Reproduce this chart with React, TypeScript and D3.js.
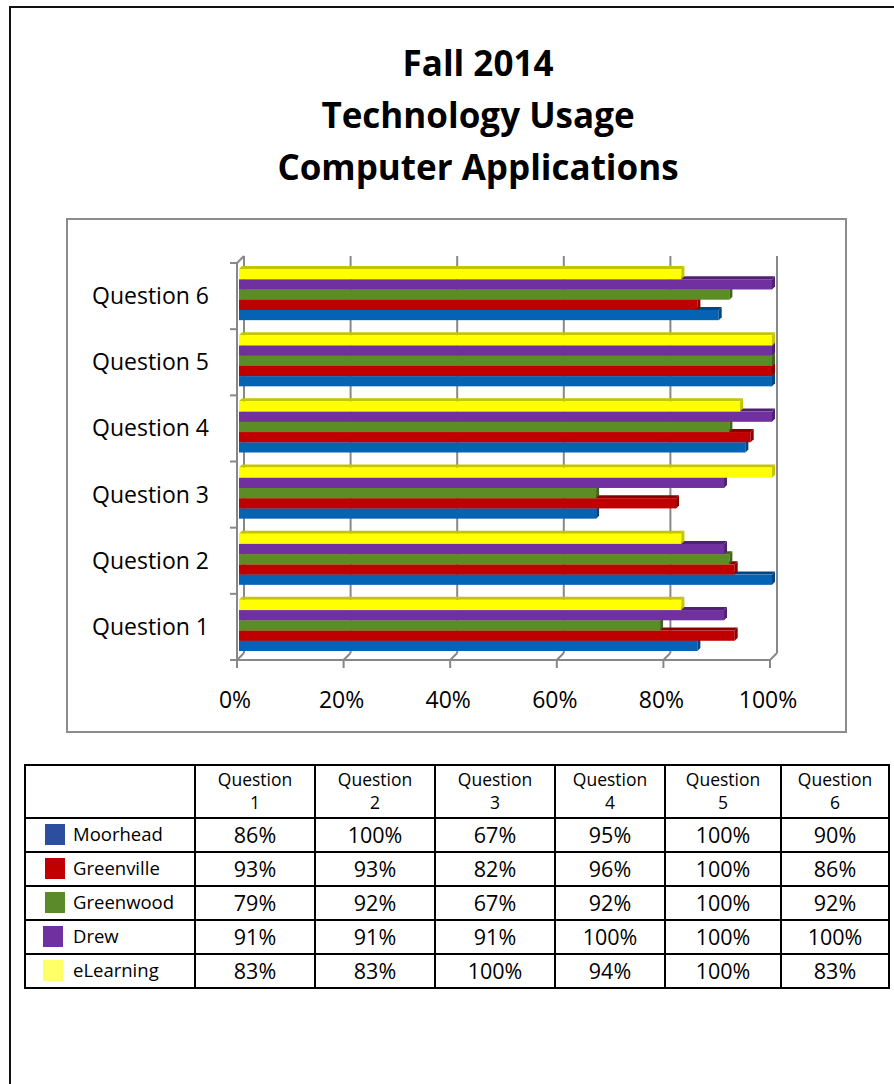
import * as d3 from 'd3';
import React from 'react';

// chart data
const questions = ['Question 1', 'Question 2', 'Question 3', 'Question 4', 'Question 5', 'Question 6'];
const seriesNames = ['Moorhead', 'Greenville', 'Greenwood', 'Drew', 'eLearning'];
const moorhead = [86, 100, 67, 95, 100, 90];
const greenville = [93, 93, 82, 96, 100, 86];
const greenwood = [79, 92, 67, 92, 100, 92];
const drew = [91, 91, 91, 100, 100, 100];
const elearning = [83, 83, 100, 94, 100, 83];
const tickValues = [0, 20, 40, 60, 80, 100];
const titleLines = ['Fall 2014', 'Technology Usage', 'Computer Applications'];

const seriesValues = [moorhead, greenville, greenwood, drew, elearning];

const barColors = ['#0563B3', '#C00000', '#5B8C26', '#7030A0', '#FFFF00'];
const barDark = ['#03467f', '#8a0000', '#40651a', '#4f2172', '#c4c400'];
const swatchColors = ['#2B4F9E', '#C00000', '#5B8A2B', '#7030A0', '#FFFF66'];

const font = '"Open Sans", Lato, sans-serif';

function Bar({ x0, x1, y, h, d, fill, dark }) {
  return (
    <g>
      <path d={`M${x0},${y} L${x0 + d},${y - d} L${x1 + d},${y - d} L${x1},${y} Z`} fill={dark} />
      <rect x={x0} y={y} width={x1 - x0} height={h} fill={fill} />
      <path d={`M${x1},${y} L${x1 + d},${y - d} L${x1 + d},${y + h - d} L${x1},${y + h} Z`} fill={dark} />
    </g>
  );
}

export default function App() {
  const W = 894;
  const H = 1084;

  const plotTop = 263;
  const plotBottom = 660;
  const depth = 7;
  const barShift = 2;
  const barDepth = 3;

  const x = d3.scaleLinear().domain([0, 100]).range([237, 770]);
  const y = d3.scaleBand().domain(questions).range([plotBottom, plotTop]);
  // top-to-bottom order inside a group
  const topOrder = [...seriesNames].reverse();
  const inner = d3.scaleBand().domain(topOrder).range([8, y.bandwidth() - 7]);

  const gridColor = '#888888';

  // table layout
  const colEdges = [25, 195, 315, 435, 555, 665, 781, 889];
  const rowEdges = [765, 818, 852, 886, 920, 954, 988];

  return (
    <svg width={W} height={H} style={{ position: 'absolute', left: 0, top: 0, background: '#fff' }} fontFamily={font}>
      <rect x={0} y={0} width={W} height={H} fill="#fff" />
      {/* page border */}
      <line x1={10} y1={6} x2={10} y2={H} stroke="#111" strokeWidth={2} />
      <line x1={9} y1={7} x2={W} y2={7} stroke="#111" strokeWidth={2} />

      {/* title */}
      {titleLines.map((t, i) => (
        <text key={t} x={478} y={76 + i * 52} textAnchor="middle" fontSize={35} fontWeight="bold" fill="#000">
          {t}
        </text>
      ))}

      {/* chart frame */}
      <rect x={67} y={219} width={779} height={513} fill="none" stroke="#8c8c8c" strokeWidth={2} />

      {/* back wall gridlines */}
      {tickValues.map((t) => (
        <g key={'g' + t}>
          <line x1={x(t) + depth} y1={plotTop - depth} x2={x(t) + depth} y2={plotBottom - depth} stroke={gridColor} strokeWidth={2} />
          <line x1={x(t)} y1={plotBottom} x2={x(t) + depth} y2={plotBottom - depth} stroke={gridColor} strokeWidth={2} />
          <line x1={x(t)} y1={plotBottom} x2={x(t)} y2={plotBottom + 8} stroke={gridColor} strokeWidth={2} />
        </g>
      ))}
      {/* floor front edge */}
      <line x1={230} y1={plotBottom} x2={x(100)} y2={plotBottom} stroke={gridColor} strokeWidth={2} />
      {/* left wall */}
      <line x1={x(0)} y1={plotTop} x2={x(0)} y2={plotBottom} stroke={gridColor} strokeWidth={2} />
      <line x1={x(0)} y1={plotTop} x2={x(0) + depth} y2={plotTop - depth} stroke={gridColor} strokeWidth={2} />
      {questions.map((q) => (
        <line key={'t' + q} x1={230} y1={y(q)} x2={x(0)} y2={y(q)} stroke={gridColor} strokeWidth={2} />
      ))}

      {/* bars */}
      {questions.map((q, qi) => (
        <g key={q}>
          {seriesNames.map((s, si) => {
            const v = seriesValues[si][qi];
            const by = y(q) + inner(s) - barShift;
            return (
              <Bar
                key={s}
                x0={x(0) + barShift}
                x1={x(v) + barShift}
                y={by}
                h={inner.bandwidth()}
                d={barDepth}
                fill={barColors[si]}
                dark={barDark[si]}
              />
            );
          })}
        </g>
      ))}

      {/* category labels */}
      {questions.map((q) => (
        <text key={'l' + q} x={209} y={y(q) + y.bandwidth() / 2 + 8} textAnchor="end" fontSize={23} fill="#000">
          {q}
        </text>
      ))}

      {/* value axis labels */}
      {tickValues.map((t) => (
        <text key={'v' + t} x={x(t) - 2} y={708} textAnchor="middle" fontSize={23} fill="#000">
          {t + '%'}
        </text>
      ))}

      {/* data table */}
      <g>
        {rowEdges.map((ry, i) => (
          <line key={'r' + i} x1={colEdges[0] - 1} y1={ry} x2={colEdges[colEdges.length - 1] + 1} y2={ry} stroke="#000" strokeWidth={2} />
        ))}
        {colEdges.map((cx, i) => (
          <line key={'c' + i} x1={cx} y1={rowEdges[0]} x2={cx} y2={rowEdges[rowEdges.length - 1]} stroke="#000" strokeWidth={2} />
        ))}
        {questions.map((q, qi) => {
          const cx = (colEdges[qi + 1] + colEdges[qi + 2]) / 2;
          const parts = q.split(' ');
          return (
            <g key={'h' + q}>
              <text x={cx} y={786} textAnchor="middle" fontSize={17.5} fill="#000">{parts[0]}</text>
              <text x={cx} y={809} textAnchor="middle" fontSize={17.5} fill="#000">{parts[1]}</text>
            </g>
          );
        })}
        {seriesNames.map((s, si) => {
          const ry0 = rowEdges[si + 1];
          const ry1 = rowEdges[si + 2];
          const cy = (ry0 + ry1) / 2;
          const sx = si >= 3 ? 43 : 45;
          return (
            <g key={'row' + s}>
              <rect x={sx} y={cy - 11} width={20} height={21} fill={swatchColors[si]} />
              <text x={73} y={cy + 6} fontSize={18.5} fill="#000">{s}</text>
              {seriesValues[si].map((v, qi) => (
                <text
                  key={qi}
                  x={(colEdges[qi + 1] + colEdges[qi + 2]) / 2}
                  y={cy + 8}
                  textAnchor="middle"
                  fontSize={21.5}
                  fill="#000"
                >
                  {v + '%'}
                </text>
              ))}
            </g>
          );
        })}
      </g>
    </svg>
  );
}
